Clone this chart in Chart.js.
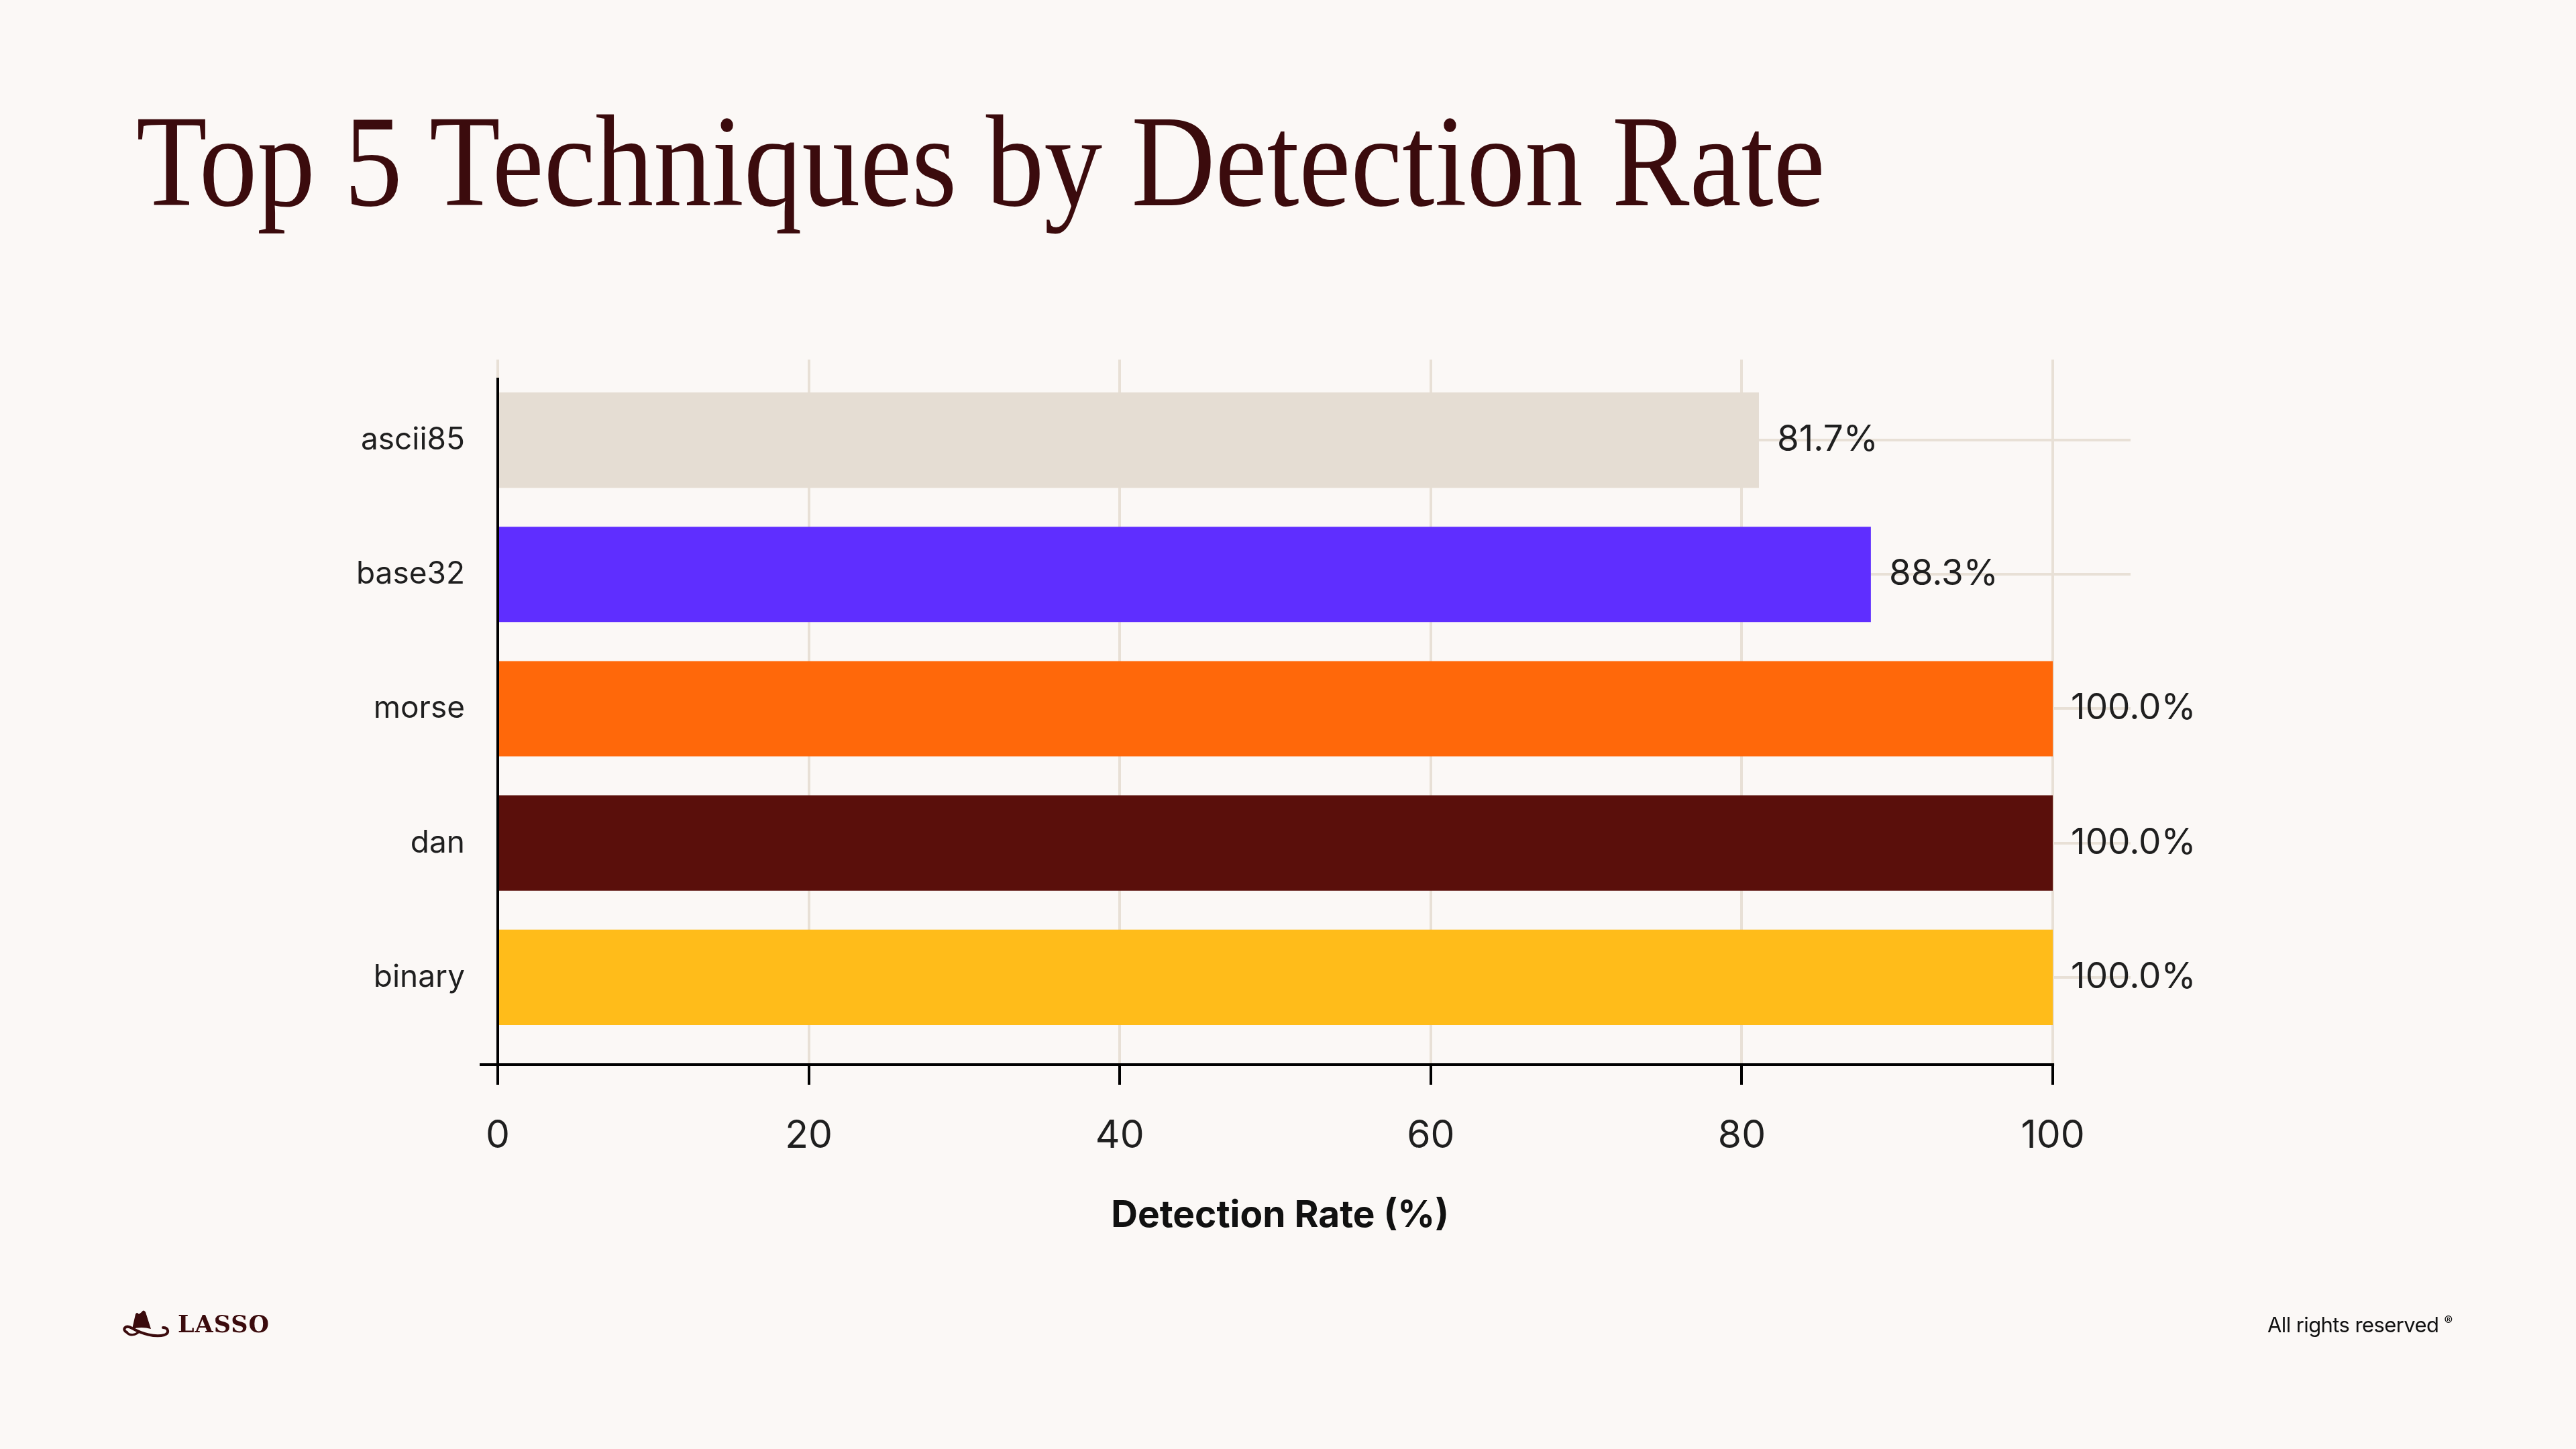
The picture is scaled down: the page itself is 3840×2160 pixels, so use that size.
<!DOCTYPE html>
<html lang="en">
<head>
<meta charset="UTF-8">
<title>Top 5 Techniques by Detection Rate</title>
<script src="https://cdn.jsdelivr.net/npm/chart.js@4.4.0/dist/chart.umd.min.js"></script>
<style>
  html, body { margin: 0; padding: 0; background: #fbf8f6; }
  body { width: 3840px; height: 2160px; position: relative; overflow: hidden; font-family: Inter, sans-serif; }
  .chart-box { position: absolute; left: 0; top: 0; width: 3840px; height: 2160px; }
  h1 {
    position: absolute; left: 203px; top: 144px; margin: 0;
    font-family: "Liberation Serif", serif; font-weight: 400; font-size: 194px; line-height: 1;
    color: #3b0b0d; white-space: nowrap;
    transform: scaleX(0.893); transform-origin: left top;
  }
  .logo { position: absolute; left: 179px; top: 1950px; display: flex; align-items: center; gap: 12px; color: #3b0b0d; }
  .logo span { font-family: "DejaVu Serif", serif; font-weight: bold; font-size: 35px; letter-spacing: 1px; }
  .rights { position: absolute; left: 3380px; top: 1956px; font-size: 31px; color: #111; letter-spacing: -0.6px; }
  .rights sup { font-size: 19px; }
</style>
</head>
<body>
  <h1>Top 5 Techniques by Detection Rate</h1>

  <div class="chart-box">
    <canvas id="detectionChart"></canvas>
  </div>

  <div class="logo">
    <svg width="74" height="46" viewBox="0 0 74 46">
      <path d="M18 31 L23 9 Q25 5 28 9 L32 6 Q35 1 38 6 L46 31 Q32 27 18 31 Z" fill="#3b0b0d"/>
      <path d="M10 36 C2 32 8 24 18 30 C32 38 52 44 66 40 C74 37 72 29 64 29" fill="none" stroke="#3b0b0d" stroke-width="4" stroke-linecap="round"/>
      <path d="M10 36 C14 42 24 40 28 35" fill="none" stroke="#3b0b0d" stroke-width="3.5" stroke-linecap="round"/>
    </svg>
    <span>LASSO</span>
  </div>
  <div class="rights">All rights reserved <sup>®</sup></div>

  <script>
    // Chart data (bar lengths as drawn, labels as printed)
    const techniques = ['ascii85', 'base32', 'morse', 'dan', 'binary'];
    const detectionRates = [81.1, 88.3, 100.0, 100.0, 100.0];
    const valueLabels = ['81.7%', '88.3%', '100.0%', '100.0%', '100.0%'];
    const barColors = ['#e5ddd3', '#5f2eff', '#ff680a', '#5a0f0b', '#ffbc1a'];
    const xTickValues = [0, 20, 40, 60, 80, 100];
    const xAxisTitle = 'Detection Rate (%)';

    const textColor = '#1f1f1f';
    const gridColor = '#e8e0d6';

    // Axis lines, axis title and value labels
    const decorations = {
      id: 'decorations',
      afterDatasetsDraw(chart) {
        const { ctx } = chart;
        const meta = chart.getDatasetMeta(0);
        ctx.save();
        ctx.fillStyle = textColor;
        ctx.font = '53px Inter';
        ctx.textAlign = 'left';
        ctx.textBaseline = 'middle';
        meta.data.forEach((bar, i) => {
          ctx.fillText(valueLabels[i], bar.x + 27, bar.y);
        });
        ctx.restore();
      },
      afterDraw(chart) {
        const { ctx, chartArea, scales: { x } } = chart;
        const x0 = x.getPixelForValue(0);
        const x100 = x.getPixelForValue(100);
        const yb = chartArea.bottom;
        ctx.save();
        ctx.strokeStyle = '#000';
        ctx.lineWidth = 4;
        ctx.beginPath();
        ctx.moveTo(x0 - 27, yb);
        ctx.lineTo(x100 + 2, yb);
        ctx.moveTo(x0, chartArea.top + 27);
        ctx.lineTo(x0, yb + 2);
        ctx.stroke();

        ctx.fillStyle = '#111';
        ctx.font = 'bold 55px Inter';
        ctx.textAlign = 'center';
        ctx.textBaseline = 'middle';
        ctx.fillText(xAxisTitle, (x0 + x100) / 2 + 7, yb + 225);
        ctx.restore();
      }
    };

    const ctx = document.getElementById('detectionChart').getContext('2d');
    new Chart(ctx, {
      type: 'bar',
      data: {
        datasets: [{
          data: detectionRates.map((v, i) => ({ x: v, y: i })),
          backgroundColor: barColors,
          borderWidth: 0,
          barPercentage: 0.71,
          categoryPercentage: 1.0
        }]
      },
      options: {
        indexAxis: 'y',
        responsive: true,
        maintainAspectRatio: false,
        animation: false,
        layout: { padding: { left: 0, right: 664, top: 536, bottom: 317 } },
        plugins: { legend: { display: false }, tooltip: { enabled: false } },
        scales: {
          x: {
            type: 'linear',
            min: 0,
            max: 105,
            afterBuildTicks(scale) { scale.ticks = xTickValues.map(v => ({ value: v })); },
            afterFit(scale) { scale.height = 256; },
            border: { display: false },
            grid: { color: gridColor, lineWidth: 4, drawTicks: true, tickLength: 30, tickColor: '#000', tickWidth: 4 },
            ticks: { color: textColor, font: { family: 'Inter', size: 57 }, padding: 43, maxRotation: 0 }
          },
          y: {
            type: 'linear',
            min: -0.6,
            max: 4.65,
            reverse: true,
            offset: false,
            afterBuildTicks(scale) { scale.ticks = techniques.map((c, i) => ({ value: i })); },
            afterFit(scale) { scale.width = 742; },
            border: { display: false },
            grid: { color: gridColor, lineWidth: 4, drawTicks: false, offset: false },
            ticks: {
              color: textColor,
              font: { family: 'Inter', size: 46 },
              padding: 49,
              callback: (v) => techniques[v]
            }
          }
        }
      },
      plugins: [decorations]
    });
  </script>
</body>
</html>
